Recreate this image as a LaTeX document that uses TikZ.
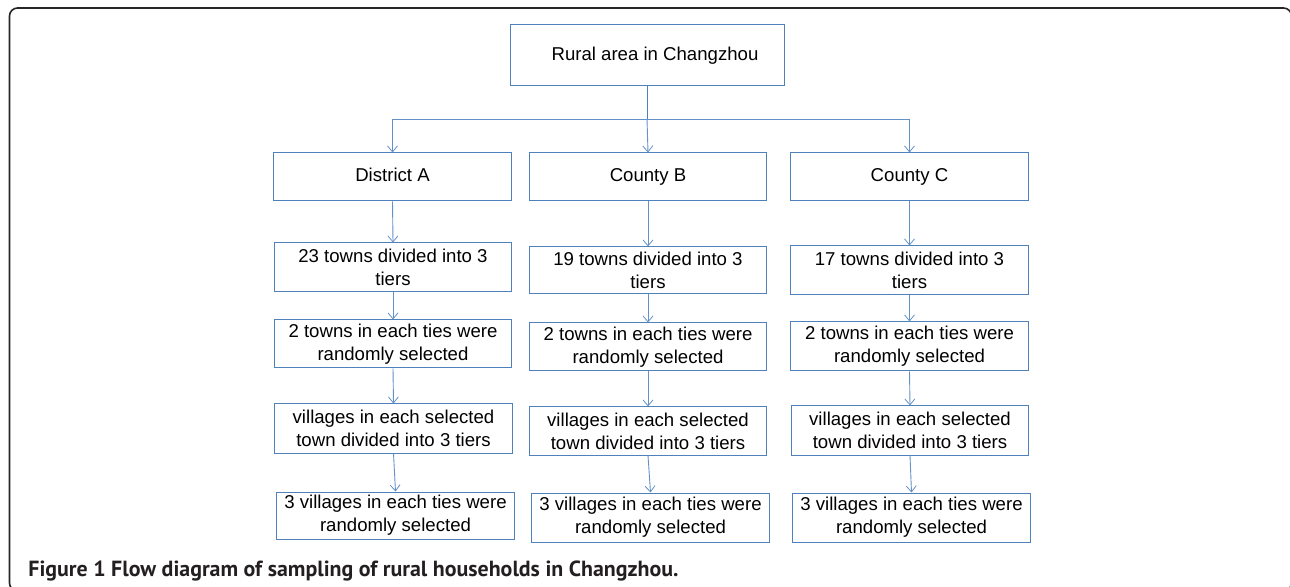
\documentclass[tikz,border=0pt]{standalone}
\usepackage{fontspec}
\setmainfont{Liberation Sans}
\newfontfamily\capfont{PT Sans}
\usetikzlibrary{arrows.meta}
\definecolor{boxblue}{RGB}{79,129,189}
\definecolor{lineblue}{RGB}{100,145,200}
\definecolor{captxt}{RGB}{35,31,32}
\begin{document}
\begin{tikzpicture}[x=0.5pt,y=-0.5pt,
  stepbox/.style={draw=boxblue,line width=0.5pt,rectangle,inner sep=0pt,
    minimum width=118.75pt,minimum height=24pt,align=center,
    font=\fontsize{9.3}{11.5}\selectfont},
  conn/.style={draw=lineblue,line width=0.45pt,-{Straight Barb[length=3pt,width=5pt,line width=0.4pt]}}]
\useasboundingbox (0,0) rectangle (1290,587);
\draw[black!85,line width=0.8pt,rounded corners=4pt] (9.5,8) rectangle (1291.5,591);
% top
\node[stepbox,minimum width=137pt,minimum height=30.5pt] (top) at (647,55.5) {\hspace{8pt}Rural area in Changzhou\strut};
% row 1
\node[stepbox] (a1) at (392.5,177) {District A\strut};
\node[stepbox] (b1) at (648,177) {County B\strut};
\node[stepbox] (c1) at (909.5,177) {County C\strut};
% row 2
\node[stepbox,minimum height=24.5pt] (a2) at (393,267.5) {23 towns divided into 3\\tiers};
\node[stepbox,minimum height=23.5pt] (b2) at (648,270.5) {19 towns divided into 3\\tiers};
\node[stepbox,minimum height=24.5pt] (c2) at (909.5,270.5) {17 towns divided into 3\\tiers};
% row 3
\node[stepbox] (a3) at (393,344) {2 towns in each ties were\\randomly selected};
\node[stepbox] (b3) at (648,347) {2 towns in each ties were\\randomly selected};
\node[stepbox,minimum height=24.5pt] (c3) at (909.5,346.5) {2 towns in each ties were\\randomly selected};
% row 4
\node[stepbox,minimum height=24.5pt] (a4) at (393.5,428.5) {villages in each selected\\town divided into 3 tiers};
\node[stepbox] (b4) at (648,431) {villages in each selected\\town divided into 3 tiers};
\node[stepbox,minimum height=24.5pt] (c4) at (910,430.5) {villages in each selected\\town divided into 3 tiers};
% row 5
\node[stepbox,minimum height=23.5pt] (a5) at (395.5,515.5) {3 villages in each ties were\\randomly selected};
\node[stepbox,minimum height=24.5pt] (b5) at (650.5,517.5) {3 villages in each ties were\\randomly selected};
\node[stepbox,minimum height=24.5pt] (c5) at (911.5,517.5) {3 villages in each ties were\\randomly selected};
% connectors
\coordinate (j) at (647,119);
\draw[draw=boxblue,line width=0.5pt] (top.south) -- (j);
\draw[conn] (j) -| (a1.north);
\draw[conn] (j) -| (c1.north);
\draw[conn] (j) -- (b1.north);
\foreach \c in {a,b,c}{
  \draw[conn] (\c1.south) -- (\c2.north);
  \draw[conn] (\c2.south) -- (\c3.north);
  \draw[conn] (\c3.south) -- (\c4.north);
  \draw[conn] (\c4.south) -- (\c5.north);
}
% caption
\node[anchor=base west,inner sep=0pt,text=captxt,font=\capfont\bfseries\fontsize{10.95}{12}\selectfont] (cap) at (28,576) {Figure 1 Flow diagram of sampling of rural households in Changzhou.};
\end{tikzpicture}
\end{document}
